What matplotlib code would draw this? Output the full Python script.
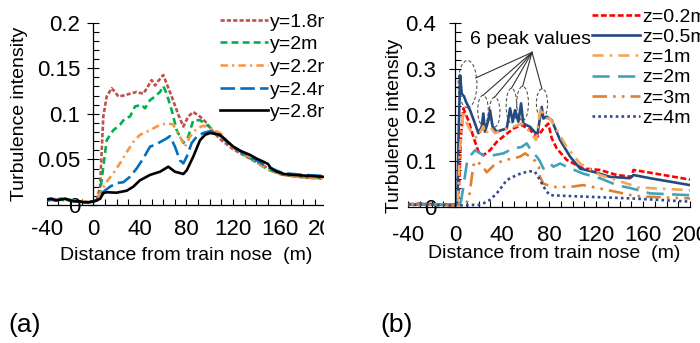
import matplotlib.pyplot as plt
from matplotlib.patches import Ellipse, Rectangle
from matplotlib.ticker import MultipleLocator

plt.rcParams['font.family'] = ['Liberation Sans', 'DejaVu Sans']

# ---- (a) turbulence intensity at different lateral distances ----
pre_x = [-40, -36, -32, -28, -24, -20, -16, -12, -8, -4, 0]

x_y18 = pre_x + [3, 5.8, 8.6, 11.5, 15.8, 18.6, 21.5, 25.8, 31.5, 37.2, 42.9, 46, 50.1, 53, 55.8,
                 60.1, 63, 67.3, 73, 77.3, 81.5, 85.8, 91.6, 97.3, 103, 110, 120.2, 130, 140, 149,
                 156, 163.2, 175, 185, 197]
v_y18 = [0.006, 0.007, 0.006, 0.007, 0.006, 0.005, 0.005, 0.004, 0.004, 0.003, 0.004,
         0.006, 0.020, 0.097, 0.119, 0.128, 0.124, 0.119, 0.120, 0.122, 0.124, 0.122, 0.128, 0.137,
         0.131, 0.136, 0.1425, 0.133, 0.119, 0.099, 0.086, 0.097, 0.102, 0.097, 0.090, 0.080, 0.071,
         0.061, 0.054, 0.047, 0.041, 0.036, 0.033, 0.031, 0.030, 0.029]

x_y20 = pre_x + [3, 5.8, 8.6, 11.5, 17.2, 22.9, 27.2, 31.5, 35.8, 41.5, 44.4, 48.7, 53, 57.3, 60.1,
                 63, 67.3, 71.6, 77.3, 81.5, 85.8, 91.6, 97.3, 105.9, 115, 125, 135, 149, 160, 175, 197]
v_y20 = [0.005, 0.006, 0.007, 0.006, 0.005, 0.006, 0.004, 0.004, 0.003, 0.003, 0.004,
         0.005, 0.013, 0.042, 0.071, 0.082, 0.088, 0.095, 0.097, 0.108, 0.110, 0.106, 0.115, 0.119,
         0.124, 0.1305, 0.122, 0.104, 0.082, 0.068, 0.075, 0.093, 0.093, 0.088, 0.079, 0.069, 0.059,
         0.051, 0.0395, 0.034, 0.031, 0.030]

x_y22 = pre_x + [3, 5.8, 11.5, 17.2, 22.9, 28.7, 34.3, 40.1, 48.7, 57.3, 64.4, 68.7, 74.4, 78.7, 83,
                 88.8, 94.5, 100.2, 108.8, 120, 135, 149, 163, 180, 197]
v_y22 = [0.006, 0.005, 0.006, 0.005, 0.006, 0.005, 0.004, 0.004, 0.004, 0.003, 0.004,
         0.005, 0.013, 0.0256, 0.0348, 0.0457, 0.058, 0.069, 0.077, 0.082, 0.088, 0.0895, 0.088,
         0.075, 0.064, 0.075, 0.084, 0.087, 0.084, 0.079, 0.063, 0.052, 0.0395, 0.033, 0.030, 0.029]

x_y24 = pre_x + [3, 7.2, 14.3, 20, 25.8, 31.5, 37.2, 42.9, 48.7, 53, 57.3, 63, 65.8, 70.1, 74.4,
                 77.3, 80.2, 84.5, 88.8, 94.5, 100.2, 110, 120, 135, 149, 163, 180, 197]
v_y24 = [0.005, 0.006, 0.005, 0.006, 0.007, 0.005, 0.004, 0.004, 0.003, 0.003, 0.004,
         0.005, 0.013, 0.020, 0.024, 0.025, 0.031, 0.040, 0.051, 0.064, 0.066, 0.069, 0.073, 0.0755,
         0.064, 0.049, 0.0457, 0.053, 0.068, 0.075, 0.079, 0.081, 0.075, 0.063, 0.053, 0.042, 0.035,
         0.033, 0.032]

x_y28 = pre_x + [3, 6, 8.6, 11.4, 20, 28.7, 34.3, 40, 48.7, 57.3, 64.4, 70.1, 77.3, 80.2, 85.8,
                 91.6, 96, 100.2, 108.8, 114, 120.2, 127, 134.5, 140, 146, 150, 152, 157.4, 164,
                 171.7, 185, 197]
v_y28 = [0.006, 0.007, 0.005, 0.006, 0.007, 0.005, 0.004, 0.004, 0.003, 0.003, 0.004,
         0.005, 0.007, 0.013, 0.014, 0.0135, 0.0157, 0.020, 0.027, 0.033, 0.0365, 0.042, 0.0365,
         0.034, 0.038, 0.053, 0.071, 0.077, 0.079, 0.077, 0.071, 0.064, 0.059, 0.055, 0.051, 0.0475,
         0.045, 0.041, 0.0365, 0.034, 0.033, 0.032, 0.031]

# ---- (b) turbulence intensity at different heights ----
pre_xb = [-40, -35, -30, -25, -20, -15, -10, -5, 0]

x_z02 = pre_xb + [3, 5, 7.1, 11.3, 15.6, 19.9, 24.1, 29.8, 35.5, 42.6, 49.6, 56.7, 63.8, 70, 75.2,
                  79.4, 82.3, 86.5, 95, 109.2, 123.4, 137.6, 150.4, 151.8, 166, 200]
v_z02 = [0.005, 0.006, 0.004, 0.006, 0.005, 0.004, 0.005, 0.004, 0.004,
         0.02, 0.15, 0.214, 0.188, 0.152, 0.12, 0.112, 0.123, 0.141, 0.156, 0.17, 0.178, 0.167,
         0.152, 0.17, 0.181, 0.149, 0.127, 0.102, 0.083, 0.08, 0.069, 0.065, 0.08, 0.074, 0.059]

x_z05 = pre_xb + [2, 3, 4.3, 5.7, 7.7, 9.4, 12.8, 17, 19.9, 22.7, 24.1, 25.5, 28.3, 29.8, 32, 35.5,
                  39.7, 44, 46.8, 49.1, 51, 53.9, 56.2, 58.1, 63.8, 70, 73.8, 75.2, 78, 82.3, 89.4,
                  97.9, 106.4, 117.7, 131.9, 148.9, 151.8, 166, 200]
v_z05 = [0.006, 0.005, 0.007, 0.005, 0.006, 0.004, 0.005, 0.004, 0.004,
         0.01, 0.15, 0.286, 0.246, 0.24, 0.228, 0.21, 0.181, 0.16, 0.174, 0.203, 0.163, 0.188,
         0.21, 0.174, 0.163, 0.167, 0.17, 0.214, 0.185, 0.21, 0.185, 0.225, 0.181, 0.174, 0.156,
         0.217, 0.192, 0.196, 0.188, 0.145, 0.109, 0.083, 0.076, 0.065, 0.062, 0.069, 0.062, 0.047]

x_z1 = pre_xb + [2.5, 4, 7.1, 8.5, 12.8, 18.5, 21, 24.1, 26, 29.8, 34, 41.1, 49.6, 56.7, 63.8, 69,
                 72.9, 76.6, 80.9, 86.5, 95, 106.4, 123.4, 150.4, 155, 200]
v_z1 = [0.004, 0.005, 0.006, 0.004, 0.005, 0.004, 0.005, 0.003, 0.004,
        0.01, 0.12, 0.21, 0.19, 0.167, 0.149, 0.16, 0.175, 0.158, 0.174, 0.16, 0.167, 0.174,
        0.181, 0.163, 0.145, 0.217, 0.192, 0.192, 0.167, 0.13, 0.094, 0.069, 0.047, 0.042, 0.036]

x_z2 = pre_xb + [3, 5, 7.1, 10, 12.8, 17, 24, 32.6, 41, 49.6, 56.7, 61, 65.3, 69.5, 72, 75.2, 78,
                 80.9, 83.7, 89.4, 95, 109, 123.4, 137.6, 150, 166, 200]
v_z2 = [0.005, 0.004, 0.006, 0.005, 0.004, 0.005, 0.004, 0.004, 0.004,
        0.005, 0.01, 0.043, 0.094, 0.11, 0.123, 0.112, 0.112, 0.116, 0.127, 0.13, 0.138, 0.12,
        0.109, 0.10, 0.083, 0.087, 0.094, 0.087, 0.094, 0.087, 0.072, 0.062, 0.047, 0.04, 0.029, 0.025]

x_z3 = pre_xb + [5, 8, 10, 12, 13.5, 15.6, 18, 22.7, 27, 33, 41, 49.6, 55.3, 59.6, 63.8, 68, 71.3,
                 72.3, 75.2, 83.7, 97.9, 109, 123, 137.6, 150, 160, 200]
v_z3 = [0.004, 0.005, 0.004, 0.005, 0.004, 0.003, 0.004, 0.003, 0.003,
        0.004, 0.006, 0.01, 0.02, 0.05, 0.09, 0.1, 0.09, 0.075, 0.09, 0.101, 0.105, 0.109, 0.116,
        0.109, 0.10, 0.087, 0.065, 0.05, 0.043, 0.043, 0.047, 0.04, 0.032, 0.025, 0.022, 0.018]

x_z4 = pre_xb + [5, 10, 15, 20, 24, 29.8, 35.5, 39.7, 44, 52.5, 58, 63.8, 68, 72.3, 75, 78, 80.9,
                 109, 150, 200]
v_z4 = [0.005, 0.004, 0.005, 0.004, 0.005, 0.004, 0.004, 0.003, 0.004,
        0.003, 0.003, 0.004, 0.004, 0.007, 0.015, 0.029, 0.043, 0.058, 0.069, 0.074, 0.077, 0.076,
        0.058, 0.045, 0.033, 0.025, 0.022, 0.018, 0.011]

# dashed rings around the six peaks: centre x, centre y, width, height
peak_x = [10.6, 23.8, 33.7, 48, 57.5, 74]
peak_y = [0.267, 0.21, 0.206, 0.22, 0.225, 0.225]
peak_w = [16, 9, 9, 9, 10, 9.5]
peak_h = [0.103, 0.065, 0.065, 0.076, 0.074, 0.063]

xtick_vals = [-40, 0, 40, 80, 120, 160, 200]
xtick_text = ['-40', '0', '40', '80', '120', '160', '200']


def style_axes(ax, ymax, yticks, ylabels, yminor, xpad, ypad):
    ax.set_xlim(-40, 200)
    ax.set_ylim(0, ymax)
    ax.patch.set_alpha(0)
    ax.spines['top'].set_visible(False)
    ax.spines['right'].set_visible(False)
    ax.spines['left'].set_position(('data', 0))
    for s in ['left', 'bottom']:
        ax.spines[s].set_linewidth(0.9)
    ax.set_xticks(xtick_vals)
    ax.set_xticklabels(xtick_text)
    ax.xaxis.set_minor_locator(MultipleLocator(10))
    ax.set_yticks(yticks)
    ax.set_yticklabels(ylabels)
    ax.yaxis.set_minor_locator(MultipleLocator(yminor))
    ax.tick_params(axis='x', which='both', direction='in', length=4, width=0.8,
                   pad=xpad, labelsize=16)
    ax.tick_params(axis='y', which='major', direction='inout', length=9, width=0.8,
                   pad=ypad, labelsize=16)
    ax.tick_params(axis='y', which='minor', direction='in', length=4, width=0.8)


fig = plt.figure(figsize=(7, 3.43), dpi=100)
ax_a = fig.add_axes([0.0667, 0.4023, 0.3994, 0.5318])
ax_b = fig.add_axes([0.5829, 0.3974, 0.4029, 0.5356])

# panel (a)
ax_a.plot(x_y18, v_y18, color='#C0504D', lw=1.9, dashes=(1.6, 0.8), label='y=1.8m')
ax_a.plot(x_y20, v_y20, color='#00B050', lw=1.9, dashes=(2.6, 1.6), label='y=2m')
ax_a.plot(x_y22, v_y22, color='#F79646', lw=1.9, dashes=(2.8, 1.6, 0.8, 1.6), label='y=2.2m')
ax_a.plot(x_y24, v_y24, color='#0070C0', lw=1.9, dashes=(5.5, 2), label='y=2.4m')
ax_a.plot(x_y28, v_y28, color='black', lw=1.9, label='y=2.8m')
style_axes(ax_a, 0.2, [0, 0.05, 0.1, 0.15, 0.2], ['0', '0.05', '0.1', '0.15', '0.2'],
           0.01, 10, 5)
ax_a.set_ylabel('Turbulence intensity', fontsize=14)
ax_a.yaxis.set_label_coords(-0.067, 0.5)
ax_a.set_xlabel('Distance from train nose  (m)', fontsize=14)
ax_a.xaxis.set_label_coords(0.5, -0.228)
ax_a.legend(loc='upper left', bbox_to_anchor=(220 / 700, 1 - 13 / 343),
            bbox_transform=fig.transFigure, frameon=False, fontsize=14,
            handlelength=2.47, handletextpad=0.1, labelspacing=0.26,
            borderpad=0, borderaxespad=0)

# panel (b)
ax_b.plot(x_z02, v_z02, color='#FF0000', lw=1.9, dashes=(2.2, 1.0), label='z=0.2m')
ax_b.plot(x_z05, v_z05, color='#254A80', lw=1.9, label='z=0.5m')
ax_b.plot(x_z1, v_z1, color='#F5A55A', lw=1.9, dashes=(4.2, 2.3, 1, 2.3), label='z=1m')
ax_b.plot(x_z2, v_z2, color='#41A3BA', lw=1.9, dashes=(6.5, 3.2), label='z=2m')
ax_b.plot(x_z3, v_z3, color='#E08030', lw=1.9, dashes=(5.5, 2.3, 1, 2.3, 1, 2.3), label='z=3m')
ax_b.plot(x_z4, v_z4, color='#2F4A8F', lw=1.9, dashes=(1, 1.2), label='z=4m')
style_axes(ax_b, 0.4, [0, 0.1, 0.2, 0.3, 0.4], ['0', '0.1', '0.2', '0.3', '0.4'],
           0.02, 13, 9)
ax_b.set_ylabel('Turbulence intensity', fontsize=14)
ax_b.yaxis.set_label_coords(-0.018, 0.44)
ax_b.set_xlabel('Distance from train nose  (m)', fontsize=14)
ax_b.xaxis.set_label_coords(0.518, -0.21)
ax_b.legend(loc='upper left', bbox_to_anchor=(592 / 700, 1 - 8 / 343),
            bbox_transform=fig.transFigure, frameon=False, fontsize=14,
            handlelength=2.47, handletextpad=0.1, labelspacing=0.135,
            borderpad=0, borderaxespad=0)

# peak rings and leader lines
apex = (65.5, 0.336)
for cx, cy, w, h in zip(peak_x, peak_y, peak_w, peak_h):
    ax_b.add_patch(Ellipse((cx, cy), w, h, fill=False, edgecolor='#555555',
                           lw=0.8, linestyle=(0, (3, 2))))
    # the widest ring is met on its right side, the others at their top
    if cx < 15:
        end = (cx + w * 0.44, cy + h * 0.13)
    else:
        end = (cx, cy + h / 2)
    ax_b.plot([apex[0], end[0]], [apex[1], end[1]], color='#333333', lw=0.8)
ax_b.text(12.8, 0.364, '6 peak values', fontsize=14, va='center', ha='left')

# panel captions
fig.text(8 / 700, 0.0525, '(a)', fontsize=19, va='center', ha='left')
fig.text(380 / 700, 0.0525, '(b)', fontsize=19, va='center', ha='left')

# panel (a) is cut off on its right side
fig.add_artist(Rectangle((324 / 700, 0), 26 / 700, 1, transform=fig.transFigure,
                         facecolor='white', edgecolor='none', zorder=5))

fig.savefig('out.png', dpi=100)
